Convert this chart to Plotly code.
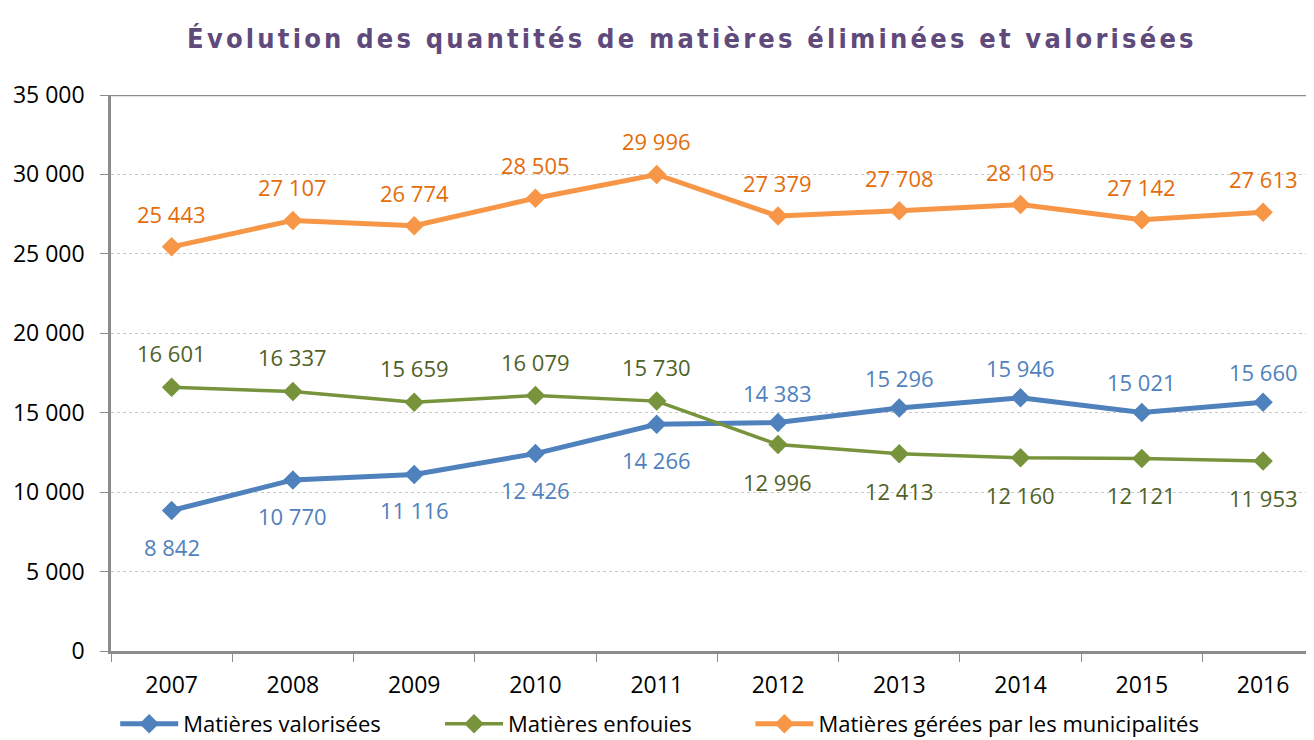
import plotly.graph_objects as go

years = ["2007", "2008", "2009", "2010", "2011", "2012", "2013", "2014", "2015", "2016"]
valorisees = [8842, 10770, 11116, 12426, 14266, 14383, 15296, 15946, 15021, 15660]
enfouies = [16601, 16337, 15659, 16079, 15730, 12996, 12413, 12160, 12121, 11953]
municipalites = [25443, 27107, 26774, 28505, 29996, 27379, 27708, 28105, 27142, 27613]

names = ["Matières valorisées", "Matières enfouies", "Matières gérées par les municipalités"]
line_colors = ["#4F81BD", "#77933C", "#F79646"]
label_colors = ["#4F81BD", "#4F6228", "#E46C0A"]
line_widths = [5, 3.5, 5]

FONT = "Open Sans, Liberation Sans, sans-serif"


def fmt(v):
    return f"{v:,}".replace(",", " ")


fig = go.Figure()
series = [valorisees, enfouies, municipalites]
legend_ids = ["legend", "legend2", "legend3"]
for vals, name, lc, lw, lg in zip(series, names, line_colors, line_widths, legend_ids):
    fig.add_trace(go.Scatter(
        x=years, y=vals, name=name, mode="lines+markers", legend=lg,
        line=dict(color=lc, width=lw),
        marker=dict(symbol="diamond", size=15, color=lc),
    ))

# data labels: valorisées below then above; enfouies above then below; municipalités above
for si, (vals, tc) in enumerate(zip(series, label_colors)):
    for i, v in enumerate(vals):
        if si == 0:
            shift = -36 if i < 5 else 30
        elif si == 1:
            shift = 34 if i < 5 else -37
        else:
            shift = 33
        fig.add_annotation(x=i, y=v, xref="x", yref="y", text=fmt(v), showarrow=False, yshift=shift,
                           font=dict(family=FONT, size=22, color=tc))

# top border of plot area
fig.add_shape(type="line", xref="paper", yref="y", x0=0, x1=1, y0=35000, y1=35000,
              line=dict(color="#8C8C8C", width=2.5))

legend_common = dict(orientation="h", xanchor="left", y=-0.131, yanchor="middle",
                     font=dict(family=FONT, size=22, color="black"), itemwidth=58,
                     bgcolor="rgba(0,0,0,0)")

fig.update_layout(
    width=1306, height=732,
    paper_bgcolor="white", plot_bgcolor="white",
    margin=dict(l=103, r=0, t=87, b=89, autoexpand=False),
    separators=", ",
    title=dict(
        text='<span style="font-family:\'DejaVu Sans Condensed\';font-stretch:condensed;font-weight:bold;letter-spacing:3.2px">Évolution des quantités de matières éliminées et valorisées</span>',
        xref="container", x=0.5237, xanchor="center", yref="container", y=0.9577, yanchor="middle",
        font=dict(family="DejaVu Sans Condensed, DejaVu Sans, sans-serif", size=27, color="#604A7B"),
    ),
    font=dict(family=FONT, size=22, color="black"),
    showlegend=True,
    legend=dict(x=0.0035, **legend_common),
    legend2=dict(x=0.2735, **legend_common),
    legend3=dict(x=0.5315, **legend_common),
    xaxis=dict(type="category", range=[-0.5, 9.42], showline=True, linecolor="#8C8C8C", linewidth=2.5,
               ticks="outside", tickson="boundaries", ticklen=8, tickcolor="#8C8C8C",
               ticklabelstandoff=12,
               showgrid=False, tickfont=dict(family=FONT, size=23, color="black")),
    yaxis=dict(range=[0, 35000], dtick=5000, tickformat=",d", showline=True, linecolor="#8C8C8C",
               linewidth=2.5, ticks="outside", ticklen=8, tickcolor="#8C8C8C",
               ticklabelstandoff=11,
               showgrid=True, gridcolor="#C8C8C8", griddash="dot", gridwidth=1,
               zeroline=False, tickfont=dict(family=FONT, size=23, color="black")),
)

fig.write_html("out.html")
